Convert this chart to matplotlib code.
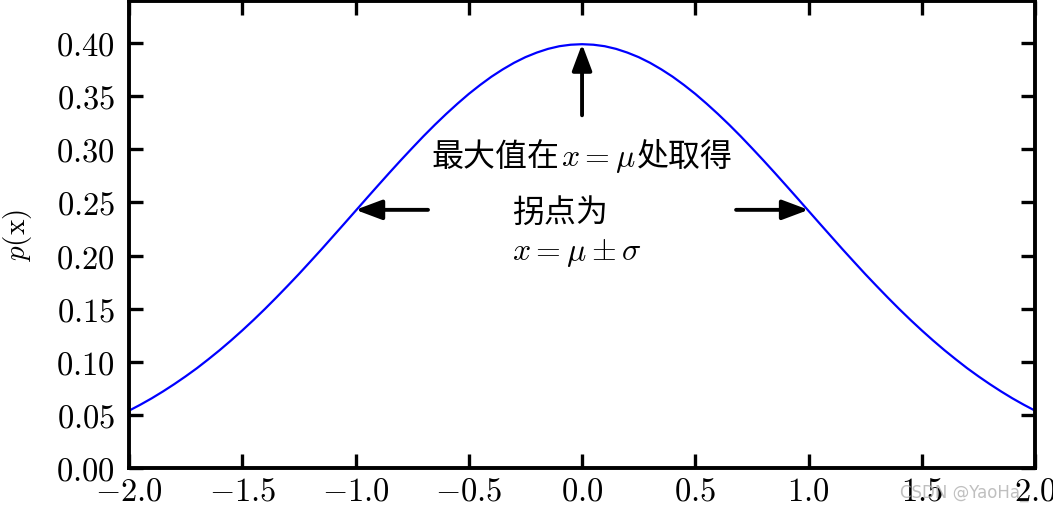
import matplotlib
matplotlib.use("Agg")
import matplotlib.pyplot as plt
from matplotlib.offsetbox import TextArea, HPacker, AnnotationBbox

plt.rcParams['font.family'] = ['cmr10', 'Noto Sans CJK SC', 'DejaVu Sans']
plt.rcParams['mathtext.fontset'] = 'cm'
plt.rcParams['axes.formatter.use_mathtext'] = True
plt.rcParams['axes.unicode_minus'] = True

# Curve values (x step 0.05)
x_vals = [-2.00, -1.95, -1.90, -1.85, -1.80, -1.75, -1.70, -1.65, -1.60, -1.55,
          -1.50, -1.45, -1.40, -1.35, -1.30, -1.25, -1.20, -1.15, -1.10, -1.05,
          -1.00, -0.95, -0.90, -0.85, -0.80, -0.75, -0.70, -0.65, -0.60, -0.55,
          -0.50, -0.45, -0.40, -0.35, -0.30, -0.25, -0.20, -0.15, -0.10, -0.05,
          0.00, 0.05, 0.10, 0.15, 0.20, 0.25, 0.30, 0.35, 0.40, 0.45,
          0.50, 0.55, 0.60, 0.65, 0.70, 0.75, 0.80, 0.85, 0.90, 0.95,
          1.00, 1.05, 1.10, 1.15, 1.20, 1.25, 1.30, 1.35, 1.40, 1.45,
          1.50, 1.55, 1.60, 1.65, 1.70, 1.75, 1.80, 1.85, 1.90, 1.95, 2.00]
p_vals = [0.0540, 0.0596, 0.0656, 0.0721, 0.0790, 0.0863, 0.0940, 0.1023, 0.1109, 0.1200,
          0.1295, 0.1394, 0.1497, 0.1604, 0.1714, 0.1826, 0.1942, 0.2059, 0.2179, 0.2299,
          0.2420, 0.2541, 0.2661, 0.2780, 0.2897, 0.3011, 0.3123, 0.3230, 0.3332, 0.3429,
          0.3521, 0.3605, 0.3683, 0.3752, 0.3814, 0.3867, 0.3910, 0.3945, 0.3970, 0.3984,
          0.3989, 0.3984, 0.3970, 0.3945, 0.3910, 0.3867, 0.3814, 0.3752, 0.3683, 0.3605,
          0.3521, 0.3429, 0.3332, 0.3230, 0.3123, 0.3011, 0.2897, 0.2780, 0.2661, 0.2541,
          0.2420, 0.2299, 0.2179, 0.2059, 0.1942, 0.1826, 0.1714, 0.1604, 0.1497, 0.1394,
          0.1295, 0.1200, 0.1109, 0.1023, 0.0940, 0.0863, 0.0790, 0.0721, 0.0656, 0.0596, 0.0540]

x_ticks = [-2.0, -1.5, -1.0, -0.5, 0.0, 0.5, 1.0, 1.5, 2.0]
y_ticks = [0.00, 0.05, 0.10, 0.15, 0.20, 0.25, 0.30, 0.35, 0.40]

peak_parts = ['最大值在', '$x=\\mu$', '处取得']
inflect_line1 = '拐点为'
inflect_line2 = '$x=\\mu\\pm\\sigma$'

fig = plt.figure(figsize=(10.53, 5.06), dpi=100)
ax = fig.add_axes([0.1225, 0.073, 0.8605, 0.924])

ax.plot(x_vals, p_vals, color='blue', lw=1.6)
ax.set_xlim(-2.0, 2.0)
ax.set_ylim(0, 0.44)
ax.set_xticks(x_ticks)
ax.set_yticks(y_ticks)
ax.tick_params(direction='in', length=10, width=2.4, labelsize=23.5,
               top=True, right=True)
ax.tick_params(axis='x', pad=6)
ax.tick_params(axis='y', pad=10)
for s in ax.spines.values():
    s.set_linewidth(2.8)
ax.set_ylabel('$p(\\mathrm{x})$', fontsize=21, labelpad=16)

arrow = dict(arrowstyle='-|>,head_length=1.6,head_width=0.6', color='black',
             lw=2.8, shrinkA=0, shrinkB=0)
ax.annotate('', xy=(0.0, 0.399), xytext=(0.0, 0.332), arrowprops=arrow)
ax.annotate('', xy=(-1.0, 0.243), xytext=(-0.68, 0.243), arrowprops=arrow)
ax.annotate('', xy=(1.0, 0.243), xytext=(0.68, 0.243), arrowprops=arrow)

areas = [TextArea(peak_parts[0], textprops=dict(fontsize=23)),
         TextArea(peak_parts[1], textprops=dict(fontsize=23)),
         TextArea(peak_parts[2], textprops=dict(fontsize=23))]
box = HPacker(children=areas, align='baseline', pad=0, sep=1)
ab = AnnotationBbox(box, (0.0, 0.292), xycoords='data', frameon=False,
                    box_alignment=(0.5, 0.5))
ax.add_artist(ab)

ax.text(-0.31, 0.241, inflect_line1, ha='left', va='center', fontsize=23)
ax.text(-0.31, 0.204, inflect_line2, ha='left', va='center', fontsize=23)

fig.text(0.855, 0.025, 'CSDN @YaoHa_', fontsize=12, color='#b0b0b0',
         family=['DejaVu Sans'], ha='left', va='center', alpha=0.8)

fig.savefig('out.png', dpi=100)
